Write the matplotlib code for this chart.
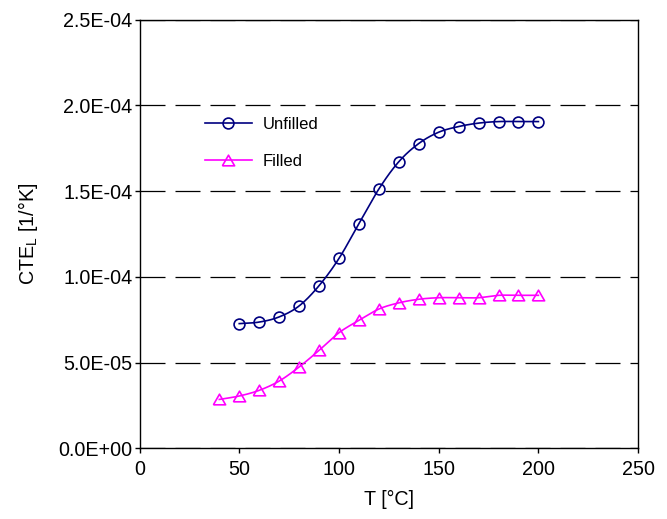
import numpy as np
import matplotlib
matplotlib.use("Agg")
import matplotlib.pyplot as plt
from matplotlib.ticker import FuncFormatter, MultipleLocator

# ---- data ----
t_unfilled = [50, 60, 70, 80, 90, 100, 110, 120, 130, 140, 150, 160, 170, 180, 190, 200]
cte_unfilled = [7.27e-5, 7.36e-5, 7.66e-5, 8.30e-5, 9.48e-5, 1.107e-4, 1.310e-4, 1.512e-4,
                1.671e-4, 1.777e-4, 1.843e-4, 1.876e-4, 1.896e-4, 1.905e-4, 1.905e-4, 1.905e-4]
t_filled = [40, 50, 60, 70, 80, 90, 100, 110, 120, 130, 140, 150, 160, 170, 180, 190, 200]
cte_filled = [2.85e-5, 3.05e-5, 3.38e-5, 3.92e-5, 4.74e-5, 5.71e-5, 6.74e-5, 7.46e-5, 8.12e-5,
              8.48e-5, 8.69e-5, 8.78e-5, 8.78e-5, 8.78e-5, 8.92e-5, 8.92e-5, 8.92e-5]
series_labels = ["Unfilled", "Filled"]
x_label = "T [°C]"
y_label = r"CTE$_\mathregular{L}$ [1/°K]"

plt.rcParams['font.family'] = ['Liberation Sans', 'DejaVu Sans']
plt.rcParams['mathtext.fontset'] = 'custom'
plt.rcParams['mathtext.rm'] = 'Liberation Sans'


def smooth(x, y, n=20):
    """Catmull-Rom style smoothing for display (like a spreadsheet's smoothed line)."""
    x = np.asarray(x, float)
    y = np.asarray(y, float)
    px = np.concatenate([[2 * x[0] - x[1]], x, [2 * x[-1] - x[-2]]])
    py = np.concatenate([[2 * y[0] - y[1]], y, [2 * y[-1] - y[-2]]])
    xs, ys = [], []
    for i in range(1, len(px) - 2):
        t = np.linspace(0, 1, n, endpoint=False)
        for arr, out in ((px, xs), (py, ys)):
            p0, p1, p2, p3 = arr[i - 1], arr[i], arr[i + 1], arr[i + 2]
            out.extend(0.5 * ((2 * p1) + (-p0 + p2) * t +
                              (2 * p0 - 5 * p1 + 4 * p2 - p3) * t ** 2 +
                              (-p0 + 3 * p1 - 3 * p2 + p3) * t ** 3))
    xs.append(x[-1])
    ys.append(y[-1])
    return np.array(xs), np.array(ys)


fig = plt.figure(figsize=(6.67, 5.19), dpi=100)
ax = fig.add_axes([0.2092, 0.1362, 0.7475, 0.8262])

navy = '#000080'
magenta = '#FF00FF'
tri = [(-1, -0.87), (1, -0.87), (0, 0.87), (-1, -0.87)]

sx, sy = smooth(t_unfilled, cte_unfilled)
ax.plot(sx, sy, color=navy, lw=1.2, zorder=3)
ax.plot(t_unfilled, cte_unfilled, ls='none', marker='o', ms=7.8, mfc='none',
        mec=navy, mew=1.2, zorder=4)
sx, sy = smooth(t_filled, cte_filled)
ax.plot(sx, sy, color=magenta, lw=1.2, zorder=3)
ax.plot(t_filled, cte_filled, ls='none', marker=tri, ms=8.8, mfc='none',
        mec=magenta, mew=1.2, zorder=4)

# legend proxies
h1, = ax.plot([], [], color=navy, lw=1.2, marker='o', ms=7.8, mfc='none', mec=navy, mew=1.2)
h2, = ax.plot([], [], color=magenta, lw=1.2, marker=tri, ms=8.8, mfc='none', mec=magenta, mew=1.2)
ax.legend([h1, h2], series_labels, loc='upper left', bbox_to_anchor=(0.131, 0.772),
          frameon=False, fontsize=12, handlelength=2.8, handletextpad=0.65,
          labelspacing=1.28, borderpad=0, borderaxespad=0)

ax.set_xlim(0, 250)
ax.set_ylim(0, 2.5e-4)
ax.xaxis.set_major_locator(MultipleLocator(50))
ax.yaxis.set_major_locator(MultipleLocator(5e-5))
ax.yaxis.set_major_formatter(FuncFormatter(lambda v, p: '{:.1E}'.format(v)))

ax.grid(axis='y', color='black', lw=0.9, linestyle=(0, (20, 8)), zorder=1)
ax.set_axisbelow(True)

for s in ax.spines.values():
    s.set_linewidth(1.0)
    s.set_color('black')

ax.tick_params(axis='both', direction='out', length=3.6, width=1.0, labelsize=14.2,
               colors='black', top=False, right=False)
ax.tick_params(axis='y', pad=1.5)
ax.tick_params(axis='x', pad=5)

ax.set_xlabel(x_label, fontsize=14.2, labelpad=8)
ax.set_ylabel(y_label, fontsize=14.2, labelpad=13)

fig.savefig('out.png', dpi=100)
